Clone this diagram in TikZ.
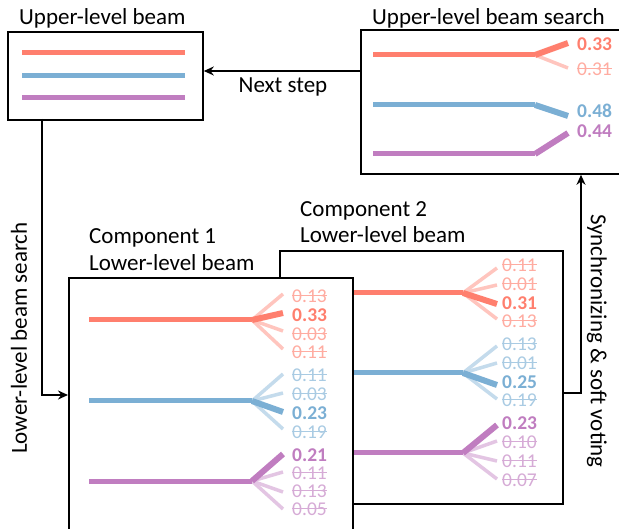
\documentclass[tikz,border=0pt]{standalone}
\usepackage{fontspec}
\setmainfont{Carlito}
\usetikzlibrary{arrows.meta}
\definecolor{cr}{HTML}{FF7F6E}
\definecolor{cb}{HTML}{7BAFD4}
\definecolor{cp}{HTML}{C07DC0}
\tikzset{
  boxnode/.style={draw, line width=1.8pt, fill=white, inner sep=0pt, anchor=north west},
  title/.style={inner sep=0pt, anchor=west, font=\fontsize{23}{27}\selectfont},
  conn/.style={line width=1.8pt, -{Stealth[length=10pt,width=9pt]}},
  mainln/.style={line width=5pt},
  boldln/.style={line width=6pt},
  faintln/.style={line width=3.5pt},
  lbl/.style={inner sep=0pt, anchor=west, font=\fontsize{19.5}{21}\selectfont},
  blbl/.style={lbl, font=\fontsize{19.5}{21}\selectfont\bfseries},
}
\newcommand\fl[1]{\setbox0\hbox{#1}\rlap{\rule[0.3em]{\wd0}{1.1pt}}\box0}
\begin{document}
\begin{tikzpicture}[x=1pt,y=-1pt]
\useasboundingbox (0,0) rectangle (619,529);
\clip (0,0) rectangle (619,529);

% ---------- Upper-level beam ----------
\node[title] (t1) at (19,18) {Upper-level beam};
\node[boxnode, minimum width=195pt, minimum height=88pt] (ubeam) at (7,31) {};
\draw[mainln, cr] (22,53) -- (185,53);
\draw[mainln, cb] (22,76) -- (185,76);
\draw[mainln, cp] (22,98) -- (185,98);

% ---------- Upper-level beam search ----------
\node[title] (t2) at (372,18) {Upper-level beam search};
\node[boxnode, minimum width=280pt, minimum height=144pt] (usearch) at (360,29) {};
\draw[faintln, cr!45!white] (535,55) -- (568,68);
\draw[mainln, cr] (373,55) -- (535,55);
\draw[boldln, cr] (535,55) -- (568,43);
\draw[mainln, cb] (373,105) -- (535,105);
\draw[boldln, cb] (535,105) -- (568,116);
\draw[mainln, cp] (373,154) -- (535,154);
\draw[boldln, cp] (535,154) -- (568,133);
\node[blbl, text=cr] (u1) at (577,44) {0.33};
\node[lbl, text=cr!65!white] (u2) at (577,69) {\fl{0.31}};
\node[blbl, text=cb] (u3) at (577,111) {0.48};
\node[blbl, text=cp] (u4) at (577,131) {0.44};

% ---------- Component 2 ----------
\node[title] (t5) at (300,211) {Component 2};
\node[title] (t6) at (300,235) {Lower-level beam};
\node[boxnode, minimum width=283pt, minimum height=253pt] (comp2) at (279,250) {};
% red
\foreach \e in {268,285,319} \draw[faintln, cr!45!white] (463,293) -- (497,\e);
\draw[mainln, cr] (330,293) -- (463,293);
\draw[boldln, cr] (463,293) -- (497,304);
% blue
\foreach \e in {346,363,399} \draw[faintln, cb!45!white] (463,373) -- (497,\e);
\draw[mainln, cb] (330,373) -- (463,373);
\draw[boldln, cb] (463,373) -- (497,385);
% purple
\foreach \e in {441,461,479} \draw[faintln, cp!45!white] (463,453) -- (497,\e);
\draw[mainln, cp] (330,453) -- (463,453);
\draw[boldln, cp] (463,453) -- (497,425);
\node[lbl, text=cr!65!white] (b1) at (502,265) {\fl{0.11}};
\node[lbl, text=cr!65!white] (b2) at (502,284) {\fl{0.01}};
\node[blbl, text=cr] (b3) at (502,303) {0.31};
\node[lbl, text=cr!65!white] (b4) at (502,321) {\fl{0.13}};
\node[lbl, text=cb!65!white] (b5) at (502,344) {\fl{0.13}};
\node[lbl, text=cb!65!white] (b6) at (502,363) {\fl{0.01}};
\node[blbl, text=cb] (b7) at (502,382) {0.25};
\node[lbl, text=cb!65!white] (b8) at (502,400) {\fl{0.19}};
\node[blbl, text=cp] (b9) at (502,423) {0.23};
\node[lbl, text=cp!65!white] (b10) at (502,442) {\fl{0.10}};
\node[lbl, text=cp!65!white] (b11) at (502,461) {\fl{0.11}};
\node[lbl, text=cp!65!white] (b12) at (502,480) {\fl{0.07}};

% ---------- Component 1 ----------
\node[title] (t3) at (89,238) {Component 1};
\node[title] (t4) at (89,263) {Lower-level beam};
\node[boxnode, minimum width=284pt, minimum height=300pt] (comp1) at (68,277) {};
% red
\foreach \e in {294,331,349} \draw[faintln, cr!45!white] (252,320) -- (283,\e);
\draw[mainln, cr] (89,320) -- (252,320);
\draw[boldln, cr] (252,320) -- (283,313);
% blue
\foreach \e in {374,393,429} \draw[faintln, cb!45!white] (252,401) -- (283,\e);
\draw[mainln, cb] (89,401) -- (252,401);
\draw[boldln, cb] (252,401) -- (283,412);
% purple
\foreach \e in {472,492,509} \draw[faintln, cp!45!white] (252,481) -- (283,\e);
\draw[mainln, cp] (89,481) -- (252,481);
\draw[boldln, cp] (252,481) -- (283,454);
\node[lbl, text=cr!65!white] (a1) at (292,296) {\fl{0.13}};
\node[blbl, text=cr] (a2) at (292,315) {0.33};
\node[lbl, text=cr!65!white] (a3) at (292,334) {\fl{0.03}};
\node[lbl, text=cr!65!white] (a4) at (292,352) {\fl{0.11}};
\node[lbl, text=cb!65!white] (a5) at (292,375) {\fl{0.11}};
\node[lbl, text=cb!65!white] (a6) at (292,394) {\fl{0.03}};
\node[blbl, text=cb] (a7) at (292,413) {0.23};
\node[lbl, text=cb!65!white] (a8) at (292,432) {\fl{0.19}};
\node[blbl, text=cp] (a9) at (292,455) {0.21};
\node[lbl, text=cp!65!white] (a10) at (292,473) {\fl{0.11}};
\node[lbl, text=cp!65!white] (a11) at (292,491) {\fl{0.13}};
\node[lbl, text=cp!65!white] (a12) at (292,509) {\fl{0.05}};

% ---------- Connectors ----------
\coordinate (ns) at (360,71);
\draw[conn] (ns) -- (ns -| ubeam.east);
\node[inner sep=0pt, font=\fontsize{23}{27}\selectfont] (nslbl) at (283,87) {Next step};

\coordinate (ld) at (42,119);
\coordinate (lc) at (42,395);
\draw[conn] (ld) -- (lc) -- (lc -| comp1.west);
\node[inner sep=0pt, rotate=90, font=\fontsize{23}{27}\selectfont] (lbs) at (19,338) {Lower-level beam search};

\coordinate (sc) at (581,393);
\draw[conn] (sc -| comp2.east) -- (sc) -- (sc |- usearch.south);
\node[inner sep=0pt, rotate=-90, font=\fontsize{23}{27}\selectfont] (sync) at (597,341) {Synchronizing \& soft voting};
\end{tikzpicture}
\end{document}
